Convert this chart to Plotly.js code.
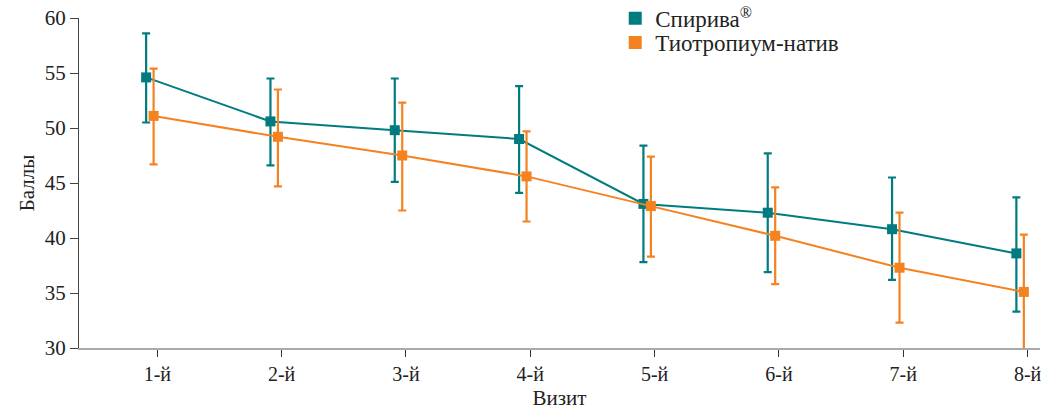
<!DOCTYPE html>
<html>
<head>
<meta charset="utf-8">
<script src="https://cdn.plot.ly/plotly-3.0.1.min.js"></script>
<style>html,body{margin:0;padding:0;background:#fff;}#chart{width:1054px;height:410px;}</style>
</head>
<body>
<div id="chart"></div>
<script>
var visits = ["1-й","2-й","3-й","4-й","5-й","6-й","7-й","8-й"];
var spirivaName = "Спирива<sup>®</sup>";
var spirivaMean = [54.6, 50.6, 49.8, 49.0, 43.1, 42.3, 40.8, 38.6];
var spirivaPlus = [4.0, 3.9, 4.7, 4.8, 5.3, 5.4, 4.7, 5.1];
var spirivaMinus = [4.1, 4.0, 4.7, 4.9, 5.3, 5.4, 4.6, 5.3];
var tioName = "Тиотропиум-натив";
var tioMean = [51.1, 49.2, 47.5, 45.6, 42.9, 40.2, 37.3, 35.1];
var tioPlus = [4.3, 4.3, 4.8, 4.1, 4.5, 4.4, 5.0, 5.2];
var tioMinus = [4.4, 4.5, 5.0, 4.1, 4.6, 4.4, 5.0, 5.5];

var teal = "#007c80";
var orange = "#f58220";
var fontFam = "Liberation Serif, Times New Roman, serif";

function series(name, y, plus, minus, color) {
  return {
    type: "scatter", mode: "lines+markers", name: name, x: visits, y: y,
    line: {color: color, width: 2},
    marker: {color: color, symbol: "square", size: 10},
    error_y: {type: "data", symmetric: false, array: plus, arrayminus: minus, color: color, thickness: 2.2, width: 4},
    showlegend: false, cliponaxis: false
  };
}
function legendItem(name, color, legendId) {
  return {type: "scatter", mode: "markers", name: name, x: [null], y: [null], legend: legendId,
    marker: {color: color, symbol: "square", size: 13}, showlegend: true};
}

var data = [
  series(spirivaName, spirivaMean, spirivaPlus, spirivaMinus, teal),
  series(tioName, tioMean, tioPlus, tioMinus, orange),
  legendItem(spirivaName, teal, "legend"),
  legendItem(tioName, orange, "legend2")
];

var legendFont = {family: fontFam, size: 23, color: "#222"};
var layout = {
  width: 1054, height: 410,
  margin: {l: 79, r: 14, t: 18, b: 62, autoexpand: false},
  paper_bgcolor: "#fff", plot_bgcolor: "#fff",
  font: {family: fontFam, size: 20, color: "#222"},
  scattermode: "group", scattergap: 0.76,
  xaxis: {
    type: "category", range: [-0.63, 7.1],
    showline: true, linecolor: "#aaaaaa", linewidth: 2,
    ticks: "outside", ticklen: 7, tickcolor: "#333", tickwidth: 1,
    showgrid: false, zeroline: false,
    tickfont: {family: fontFam, size: 20, color: "#222"},
    title: {text: "Визит", font: {family: fontFam, size: 21, color: "#222"}, standoff: 6}
  },
  yaxis: {
    range: [30, 60], tickvals: [30,35,40,45,50,55,60],
    showline: true, linecolor: "#444", linewidth: 1,
    ticks: "outside", ticklen: 8, tickcolor: "#444", tickwidth: 1,
    showgrid: false, zeroline: false,
    tickfont: {family: fontFam, size: 21, color: "#222"},
    title: {text: "Баллы", font: {family: fontFam, size: 21, color: "#222"}, standoff: 4}
  },
  legend: {x: 0.558, y: 1.064, xanchor: "left", yanchor: "top", bgcolor: "rgba(0,0,0,0)",
    font: legendFont, itemwidth: 30},
  legend2: {x: 0.558, y: 0.991, xanchor: "left", yanchor: "top", bgcolor: "rgba(0,0,0,0)",
    font: legendFont, itemwidth: 30},
  showlegend: true
};
Plotly.newPlot("chart", data, layout, {displayModeBar: false, staticPlot: true});
</script>
</body>
</html>
